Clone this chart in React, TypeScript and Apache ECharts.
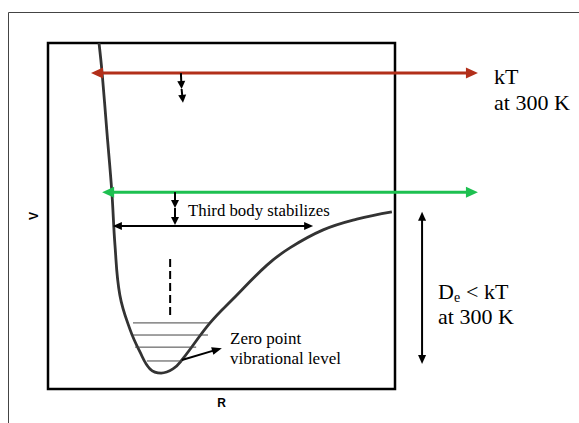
import React, { useEffect, useRef } from "react";
import * as echarts from "echarts";

// Potential curve V(R) (arbitrary units, axis 0..100)
const curveR = [14.7, 15.6, 17.0, 18.4, 19.3, 20.7, 23.6, 26.5, 29.4, 32.6, 36.0, 38.6, 46.7, 53.3, 63.1, 69.7, 79.3, 89.0, 99.1];
const curveV = [100, 91.3, 74.0, 56.9, 41.6, 27.2, 17.3, 10.7, 5.8, 4.6, 5.8, 8.4, 19.1, 26.0, 35.8, 40.8, 46.0, 49.1, 51.2];

// Vibrational levels
const levelV = [19.1, 15.6, 12.1, 8.1];
const levelR0 = [24.5, 24.5, 25.1, 28.5];
const levelR1 = [46.4, 46.1, 42.7, 38.6];

// Dashed "more levels" marker
const ladderR = [35.2, 35.2];
const ladderV = [37.6, 20.8];

// Arrows: [r1, v1, r2, v2, headAtStart, headAtEnd]
const kTArrow = [[12.4, 91.3, 123.9, 91.3, 1, 1]];
const collisionArrow = [[15.6, 56.9, 123.9, 56.9, 1, 1]];
const dropArrows = [
  [38.3, 91.3, 38.5, 86.7, 0, 1],
  [38.5, 86.7, 38.9, 82.7, 0, 1],
  [36.6, 56.9, 36.6, 52.3, 0, 1],
  [36.6, 52.3, 36.6, 47.4, 0, 1],
];
const stabilizeArrow = [[18.7, 47.1, 76.4, 47.1, 1, 1]];
const depthArrow = [[107.8, 51.2, 107.8, 7.2, 1, 1]];
const zeroPointArrow = [[38.6, 8.4, 50.1, 11.8, 0, 1]];

const SERIF = "'Liberation Serif', 'Times New Roman', serif";

function arrowSeries(id: string, segs: number[][], color: string, width: number, headLen: number, headW: number) {
  return {
    type: "custom",
    id,
    data: segs,
    clip: false,
    silent: true,
    z: 5,
    encode: { x: [0, 2], y: [1, 3] },
    renderItem: (_params: any, api: any) => {
      const a = api.coord([api.value(0), api.value(1)]);
      const b = api.coord([api.value(2), api.value(3)]);
      const dx = b[0] - a[0];
      const dy = b[1] - a[1];
      const L = Math.hypot(dx, dy) || 1;
      const ux = dx / L;
      const uy = dy / L;
      const nx = -uy;
      const ny = ux;
      const hs = api.value(4);
      const he = api.value(5);
      const s = hs ? [a[0] + ux * headLen * 0.7, a[1] + uy * headLen * 0.7] : a;
      const e = he ? [b[0] - ux * headLen * 0.7, b[1] - uy * headLen * 0.7] : b;
      const children: any[] = [
        {
          type: "line",
          shape: { x1: s[0], y1: s[1], x2: e[0], y2: e[1] },
          style: { stroke: color, lineWidth: width },
        },
      ];
      const head = (tip: number[], dirx: number, diry: number) => {
        const bx = tip[0] - dirx * headLen;
        const by = tip[1] - diry * headLen;
        children.push({
          type: "polygon",
          shape: {
            points: [
              [tip[0], tip[1]],
              [bx + nx * headW / 2, by + ny * headW / 2],
              [bx - nx * headW / 2, by - ny * headW / 2],
            ],
          },
          style: { fill: color, stroke: null },
        });
      };
      if (he) head(b, ux, uy);
      if (hs) head(a, -ux, -uy);
      return { type: "group", children };
    },
  };
}

export default function App() {
  const ref = useRef<HTMLDivElement>(null);
  useEffect(() => {
    document.body.style.margin = "0";
    if (!ref.current) return;
    const chart = echarts.init(ref.current, undefined, { renderer: "svg" });
    const levelSegs = levelV.map((v, i) => [levelR0[i], v, levelR1[i], v, 0, 0]);
    const hiddenAxis = {
      type: "value",
      min: 0,
      max: 100,
      axisLine: { show: false },
      axisTick: { show: false },
      axisLabel: { show: false },
      splitLine: { show: false },
      nameLocation: "middle",
      nameTextStyle: { fontFamily: "'Liberation Sans', Arial, sans-serif", fontWeight: "bold", fontSize: 12, color: "#000" },
    };
    chart.setOption({
      animation: false,
      backgroundColor: "#fff",
      grid: { left: 48, right: 184, top: 43, bottom: 34, show: true, borderColor: "#000", borderWidth: 2.5 },
      xAxis: { ...hiddenAxis, name: "R", nameGap: 8 },
      yAxis: { ...hiddenAxis, name: "V", nameGap: 8 },
      graphic: [
        { type: "rect", shape: { x: 8.5, y: 12.5, width: 640, height: 500 }, style: { fill: "none", stroke: "#444", lineWidth: 1 }, silent: true },
        { type: "text", x: 494, y: 76, style: { text: "kT", font: `22px ${SERIF}`, fill: "#000", verticalAlign: "middle" } },
        { type: "text", x: 494, y: 102.5, style: { text: "at 300 K", font: `22px ${SERIF}`, fill: "#000", verticalAlign: "middle" } },
        { type: "text", x: 188, y: 210, style: { text: "Third body stabilizes", font: `16.8px ${SERIF}`, fill: "#000", verticalAlign: "middle" } },
        { type: "text", x: 230, y: 338, style: { text: "Zero point", font: `17px ${SERIF}`, fill: "#000", verticalAlign: "middle" } },
        { type: "text", x: 230, y: 358, style: { text: "vibrational level", font: `17px ${SERIF}`, fill: "#000", verticalAlign: "middle" } },
        { type: "text", x: 438, y: 291, style: { text: "D", font: `22px ${SERIF}`, fill: "#000", verticalAlign: "middle" } },
        { type: "text", x: 454, y: 297, style: { text: "e", font: `14px ${SERIF}`, fill: "#000", verticalAlign: "middle" } },
        { type: "text", x: 466, y: 291, style: { text: "< kT", font: `22px ${SERIF}`, fill: "#000", verticalAlign: "middle" } },
        { type: "text", x: 438, y: 316.5, style: { text: "at 300 K", font: `22px ${SERIF}`, fill: "#000", verticalAlign: "middle" } },
      ],
      series: [
        {
          type: "line",
          data: curveR.map((r, i) => [r, curveV[i]]),
          smooth: 0.4,
          showSymbol: false,
          symbol: "none",
          lineStyle: { color: "#333", width: 2.8 },
          z: 4,
        },
        {
          type: "line",
          data: ladderR.map((r, i) => [r, ladderV[i]]),
          showSymbol: false,
          symbol: "none",
          lineStyle: { color: "#000", width: 2, type: [8, 4] },
        },
        arrowSeries("levels", levelSegs, "#444", 1, 0, 0),
        arrowSeries("kT", kTArrow, "#B22F1A", 3, 12, 11),
        arrowSeries("collision", collisionArrow, "#1DC050", 3, 12, 11),
        arrowSeries("drop", dropArrows, "#000", 2, 8, 8),
        arrowSeries("stabilize", stabilizeArrow, "#000", 2, 9, 8),
        arrowSeries("depth", depthArrow, "#000", 2, 9, 8),
        arrowSeries("zero", zeroPointArrow, "#000", 2, 10, 8),
      ],
    });
    return () => chart.dispose();
  }, []);
  return <div ref={ref} style={{ width: 579, height: 423 }} />;
}
